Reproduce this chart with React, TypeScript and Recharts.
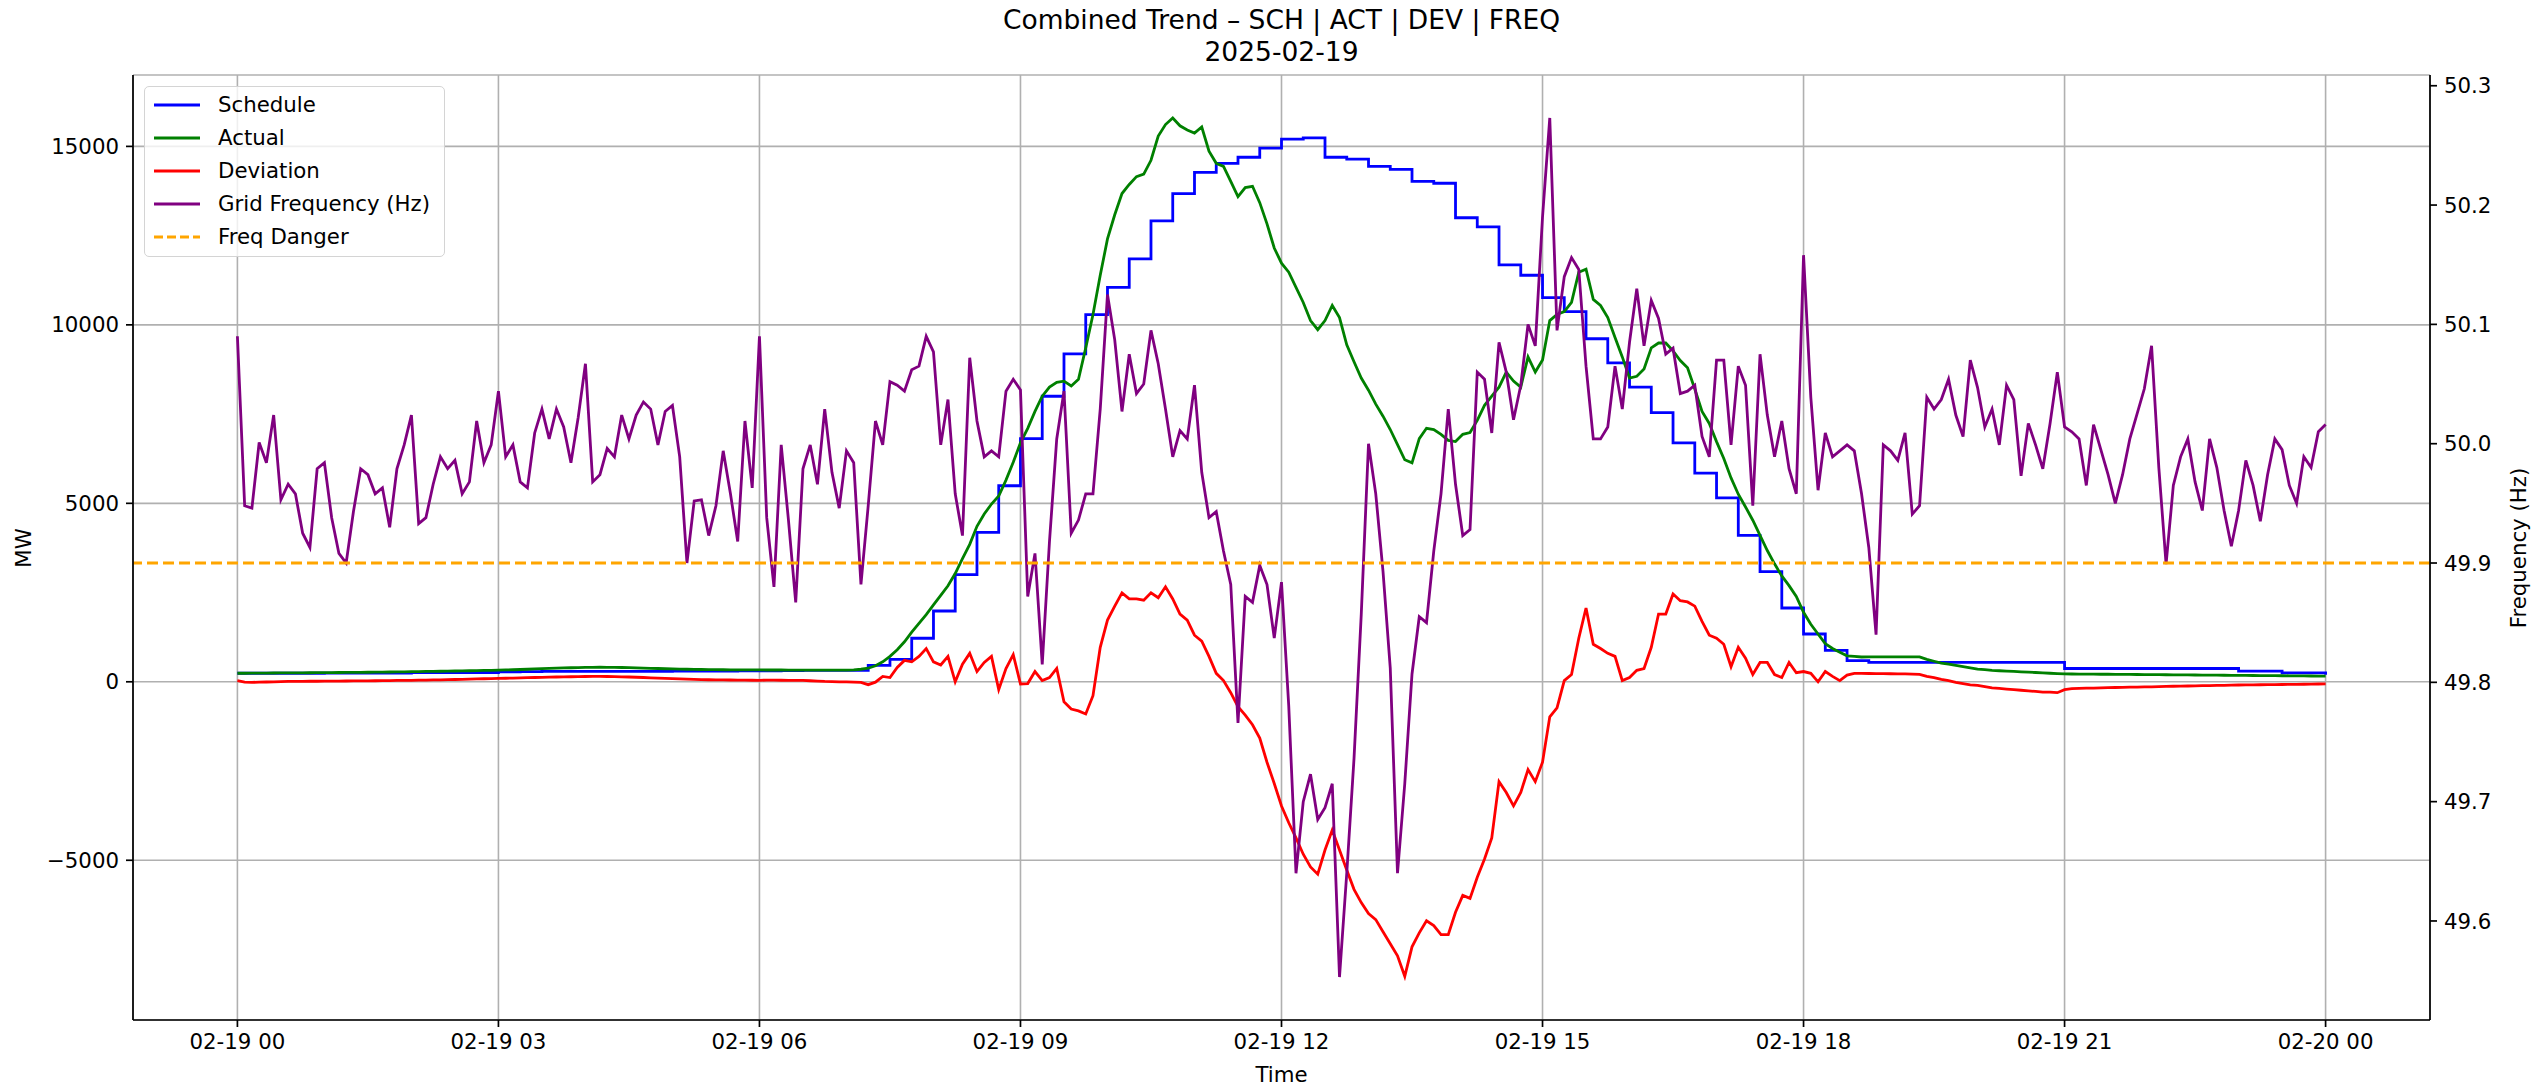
import { LineChart, Line, XAxis, YAxis, CartesianGrid, ReferenceLine } from "recharts";

const W = 2539;
const H = 1088;
const FONT = "DejaVu Sans, Verdana, sans-serif";
const PLOT_LEFT = 133;
const PLOT_RIGHT = 2430;
const PLOT_TOP = 75;
const PLOT_BOTTOM = 1020;
const FS = 21.3;

const STEP_MIN = 5; // freq / actual / deviation sampling
const BLOCK_MIN = 15; // schedule blocks

const TIME_TICKS = [0, 180, 360, 540, 720, 900, 1080, 1260, 1440];
const MW_TICKS = [-5000, 0, 5000, 10000, 15000];
const HZ_TICKS = [49.6, 49.7, 49.8, 49.9, 50.0, 50.1, 50.2, 50.3];
const FREQ_DANGER = 49.9;

// schedule, one value per 15-min block, 00:00 … 24:00
const SCHEDULE_MW = [
  240, 240, 240, 240, 245, 245, 245, 245, 255, 255, 260, 260,
  280, 285, 290, 290, 290, 290, 290, 290, 300, 300, 300, 305,
  310, 315, 320, 320, 322, 458, 627, 1220, 1983, 3000, 4187, 5492,
  6814, 8000, 9187, 10289, 11051, 11848, 12916, 13679, 14272, 14526, 14696, 14950,
  15204, 15238, 14696, 14645, 14441, 14357, 14018, 13967, 13001, 12746, 11679, 11390,
  10763, 10373, 9611, 8933, 8255, 7543, 6695, 5848, 5153, 4102, 3085, 2068,
  1339, 881, 593, 542, 542, 542, 542, 542, 542, 542, 542, 542,
  373, 373, 373, 373, 373, 373, 373, 373, 300, 300, 250, 250,
  200,
];

// actual, 5-min samples
const ACTUAL_MW = [
  // 00:00–03:00
  240, 240, 242, 244, 245, 246, 248, 250, 250, 252, 254, 255, 256, 258, 260, 262, 264, 265,
  268, 270, 272, 275, 278, 280, 283, 286, 290, 293, 296, 300, 303, 306, 310, 314, 318, 322, 326,
  // 03:05–06:00
  332, 338, 345, 352, 360, 368, 375, 382, 388, 393, 398, 402, 405, 407, 406, 404, 400, 396,
  390, 384, 378, 372, 366, 360, 356, 352, 348, 345, 342, 340, 338, 336, 335, 334, 333, 332,
  // 06:05–09:00
  330, 330, 330, 328, 328, 328, 326, 326, 326, 325, 325, 325, 335, 352, 380, 450, 560, 712,
  900, 1120, 1390, 1640, 1880, 2153, 2420, 2690, 3034, 3450, 3850, 4356, 4700, 4980, 5204, 5650, 6150, 6695,
  // 09:05–12:00
  7102, 7577, 8000, 8255, 8390, 8424, 8289, 8475, 9356, 10289, 11390, 12407, 13085, 13679, 13933, 14153, 14221, 14611,
  15289, 15611, 15797, 15577, 15458, 15374, 15543, 14865, 14526, 14441, 14018, 13594, 13848, 13882, 13424, 12831, 12153, 11729,
  // 12:05–15:00
  11475, 11051, 10628, 10119, 9865, 10119, 10543, 10204, 9441, 8967, 8509, 8170, 7780, 7441, 7068, 6644, 6221, 6136,
  6814, 7102, 7068, 6932, 6763, 6729, 6932, 6983, 7322, 7746, 8000, 8255, 8678, 8424, 8255, 9102, 8678, 9017,
  // 15:05–18:00
  10119, 10289, 10373, 10628, 11475, 11560, 10713, 10543, 10204, 9645, 9102, 8509, 8560, 8763, 9357, 9492, 9492, 9272,
  9001, 8797, 8204, 7577, 7238, 6729, 6255, 5712, 5255, 4899, 4526, 4102, 3678, 3305, 2966, 2695, 2390, 1949,
  // 18:05–21:00
  1610, 1339, 1068, 932, 831, 729, 712, 695, 700, 700, 700, 700, 700, 700, 700, 700, 627, 576,
  525, 492, 458, 424, 390, 356, 339, 322, 310, 300, 290, 280, 270, 260, 250, 240, 230, 220,
  // 21:05–24:00
  218, 217, 215, 214, 212, 211, 209, 207, 206, 204, 203, 201, 199, 198, 196, 194, 193, 191,
  189, 188, 186, 184, 182, 181, 179, 177, 175, 174, 172, 170, 168, 166, 164, 162, 160, 158,
];

// deviation, 5-min samples
const DEVIATION_MW = [
  // 00:00–03:00
  30, -10, -15, -10, -5, 0, 5, 10, 10, 12, 15, 15, 18, 20, 20, 22, 25, 25,
  28, 30, 32, 35, 38, 40, 42, 45, 48, 52, 56, 60, 65, 70, 75, 80, 85, 90, 95,
  // 03:05–06:00
  100, 105, 110, 115, 120, 125, 130, 135, 140, 142, 145, 148, 150, 150, 148, 145, 140, 135,
  128, 120, 112, 105, 98, 90, 82, 75, 68, 62, 58, 55, 52, 50, 48, 46, 44, 42,
  // 06:05–09:00
  48, 46, 44, 42, 40, 38, 30, 20, 10, 5, 0, 0, -10, -17, -80, -10, 150, 120,
  400, 600, 560, 712, 932, 560, 470, 712, 0, 492, 797, 288, 542, 712, -220, 373, 763, -60,
  // 09:05–12:00
  -50, 288, 34, 119, 373, -560, -763, -814, -900, -390, 966, 1729, 2119, 2492, 2322, 2322, 2288, 2492,
  2356, 2661, 2322, 1898, 1729, 1305, 1136, 712, 237, 34, -305, -695, -932, -1203, -1576, -2254, -2848, -3480,
  // 12:05–15:00
  -3949, -4373, -4831, -5187, -5390, -4712, -4153, -4712, -5271, -5814, -6187, -6492, -6661, -7000, -7339, -7678, -8250, -7424,
  -7034, -6695, -6831, -7085, -7085, -6458, -5983, -6068, -5475, -4966, -4373, -2797, -3102, -3475, -3102, -2458, -2797, -2254,
  // 15:05–18:00
  -983, -729, 34, 203, 1220, 2068, 1051, 932, 797, 712, 34, 119, 322, 373, 966, 1898, 1898, 2458,
  2271, 2237, 2119, 1695, 1305, 1220, 1051, 424, 966, 661, 203, 542, 542, 203, 119, 542, 254, 288,
  // 18:05–21:00
  237, 0, 288, 153, 34, 186, 237, 235, 232, 230, 228, 226, 224, 220, 215, 210, 153, 119,
  68, 34, -17, -51, -85, -102, -136, -170, -186, -203, -220, -237, -254, -271, -288, -288, -305, -220,
  // 21:05–24:00
  -190, -185, -180, -175, -170, -165, -160, -155, -150, -148, -145, -140, -135, -130, -125, -120, -118, -115,
  -110, -105, -100, -98, -95, -90, -88, -85, -82, -80, -78, -75, -72, -70, -68, -65, -62, -60,
];

// grid frequency, 5-min samples
const FREQ_HZ = [
  // 00:00–03:00
  50.09, 49.948, 49.946, 50.001, 49.984, 50.024, 49.953, 49.966, 49.958, 49.925, 49.913, 49.979, 49.984, 49.938, 49.908, 49.9, 49.943, 49.979,
  49.974, 49.958, 49.963, 49.93, 49.979, 49.999, 50.024, 49.933, 49.938, 49.966, 49.989, 49.979, 49.986, 49.958, 49.968, 50.019, 49.984, 49.999, 50.044,
  // 03:05–06:00
  49.989, 49.999, 49.968, 49.963, 50.009, 50.029, 50.004, 50.029, 50.014, 49.984, 50.022, 50.067, 49.968, 49.974, 49.996, 49.989, 50.024, 50.004,
  50.024, 50.035, 50.029, 49.999, 50.027, 50.032, 49.989, 49.9, 49.952, 49.953, 49.923, 49.948, 49.994, 49.958, 49.918, 50.019, 49.963, 50.09,
  // 06:05–09:00
  49.938, 49.88, 49.999, 49.936, 49.867, 49.979, 49.999, 49.966, 50.029, 49.976, 49.946, 49.994, 49.984, 49.882, 49.948, 50.019, 49.999, 50.052,
  50.049, 50.044, 50.062, 50.065, 50.09, 50.077, 49.999, 50.037, 49.958, 49.923, 50.072, 50.019, 49.989, 49.994, 49.989, 50.044, 50.054, 50.045,
  // 09:05–12:00
  49.872, 49.908, 49.815, 49.918, 50.004, 50.044, 49.925, 49.936, 49.958, 49.958, 50.029, 50.125, 50.087, 50.027, 50.075, 50.042, 50.05, 50.095,
  50.067, 50.029, 49.989, 50.011, 50.004, 50.049, 49.976, 49.938, 49.943, 49.91, 49.882, 49.766, 49.872, 49.867, 49.898, 49.882, 49.837, 49.884,
  // 12:05–15:00
  49.78, 49.64, 49.7, 49.723, 49.685, 49.695, 49.715, 49.553, 49.64, 49.736, 49.857, 50.0, 49.958, 49.893, 49.812, 49.64, 49.715, 49.807,
  49.855, 49.85, 49.91, 49.958, 50.029, 49.966, 49.923, 49.928, 50.06, 50.054, 50.009, 50.085, 50.06, 50.02, 50.049, 50.1, 50.082, 50.19,
  // 15:05–18:00
  50.273, 50.095, 50.14, 50.156, 50.146, 50.065, 50.004, 50.004, 50.014, 50.065, 50.029, 50.085, 50.13, 50.082, 50.12, 50.105, 50.075, 50.08,
  50.042, 50.044, 50.049, 50.006, 49.989, 50.07, 50.07, 49.999, 50.065, 50.049, 49.948, 50.075, 50.024, 49.989, 50.019, 49.979, 49.958, 50.158,
  // 18:05–21:00
  50.039, 49.961, 50.009, 49.989, 49.994, 49.999, 49.994, 49.958, 49.913, 49.84, 49.999, 49.994, 49.986, 50.009, 49.941, 49.948, 50.039, 50.029,
  50.037, 50.054, 50.024, 50.006, 50.07, 50.047, 50.014, 50.029, 49.999, 50.049, 50.037, 49.973, 50.017, 49.999, 49.979, 50.017, 50.06, 50.014,
  // 21:05–24:00
  50.01, 50.004, 49.965, 50.016, 49.995, 49.974, 49.95, 49.974, 50.004, 50.025, 50.046, 50.082, 49.98, 49.899, 49.965, 49.989, 50.004, 49.968,
  49.944, 50.004, 49.98, 49.944, 49.914, 49.944, 49.986, 49.965, 49.935, 49.974, 50.004, 49.995, 49.965, 49.95, 49.989, 49.98, 50.01, 50.016,
];

const LEGEND_ITEMS = [
  { label: "Schedule", color: "#0000ff", dashed: false },
  { label: "Actual", color: "#008000", dashed: false },
  { label: "Deviation", color: "#ff0000", dashed: false },
  { label: "Grid Frequency (Hz)", color: "#800080", dashed: false },
  { label: "Freq Danger", color: "#ffa500", dashed: true },
];

const rows = FREQ_HZ.map((hz, i) => ({
  t: i * STEP_MIN,
  schedule: SCHEDULE_MW[Math.floor((i * STEP_MIN) / BLOCK_MIN)],
  actual: ACTUAL_MW[i],
  deviation: DEVIATION_MW[i],
  freq: hz,
}));

const fmtTime = (t: number) => {
  const day = t >= 1440 ? "02-20" : "02-19";
  const hh = Math.floor((t % 1440) / 60);
  return `${day} ${String(hh).padStart(2, "0")}`;
};
const fmtMw = (v: number) => (v < 0 ? `\u2212${Math.abs(v)}` : `${v}`);

const tickStyle = { fill: "#000", fontSize: FS, fontFamily: FONT };
const axisStroke = { stroke: "#000", strokeWidth: 1.7 };
const LW = 2.8;

function LegendBox() {
  return (
    <div
      style={{
        position: "absolute",
        left: 144,
        top: 86,
        width: 301,
        height: 171,
        boxSizing: "border-box",
        border: "1.7px solid #d4d4d4",
        borderRadius: 5,
        background: "rgba(255,255,255,0.8)",
        fontFamily: FONT,
        fontSize: FS,
        color: "#000",
      }}
    >
      {LEGEND_ITEMS.map((it, i) => (
        <div
          key={it.label}
          style={{ position: "absolute", left: 0, top: 18 + i * 33 - 13, height: 26, display: "flex", alignItems: "center" }}
        >
          <svg width={56} height={26} style={{ display: "block" }}>
            <line
              x1={9}
              x2={55}
              y1={13}
              y2={13}
              stroke={it.color}
              strokeWidth={LW}
              strokeDasharray={it.dashed ? "9 4" : undefined}
            />
          </svg>
          <span style={{ marginLeft: 17, whiteSpace: "nowrap", lineHeight: "26px" }}>{it.label}</span>
        </div>
      ))}
    </div>
  );
}

export default function App() {
  const midX = (PLOT_LEFT + PLOT_RIGHT) / 2;
  const midY = (PLOT_TOP + PLOT_BOTTOM) / 2;
  return (
    <div style={{ position: "absolute", left: 0, top: 0, width: W, height: H, background: "#fff", fontFamily: FONT }}>
      <div
        style={{
          position: "absolute",
          left: midX - 600,
          width: 1200,
          top: 4,
          textAlign: "center",
          fontSize: 26.5,
          lineHeight: "32px",
          color: "#000",
        }}
      >
        <div>Combined Trend – SCH | ACT | DEV | FREQ</div>
        <div>2025-02-19</div>
      </div>

      <LineChart
        width={W}
        height={H}
        data={rows}
        margin={{ top: PLOT_TOP, right: 0, bottom: 0, left: 0 }}
        style={{ position: "absolute", left: 0, top: 0 }}
      >
        <CartesianGrid xAxisId="time" yAxisId="mw" stroke="#b0b0b0" strokeWidth={1.6} />
        <XAxis
          xAxisId="time"
          dataKey="t"
          type="number"
          domain={[-72, 1512]}
          allowDataOverflow
          ticks={TIME_TICKS}
          tickFormatter={fmtTime}
          height={H - PLOT_BOTTOM}
          tick={tickStyle}
          tickSize={7}
          tickMargin={7}
          tickLine={axisStroke}
          axisLine={axisStroke}
        />
        <XAxis
          xAxisId="top"
          orientation="top"
          dataKey="t"
          type="number"
          domain={[-72, 1512]}
          allowDataOverflow
          height={0}
          tick={false}
          tickLine={false}
          axisLine={axisStroke}
        />
        <YAxis
          yAxisId="mw"
          type="number"
          domain={[-9475, 17000]}
          allowDataOverflow
          ticks={MW_TICKS}
          tickFormatter={fmtMw}
          width={PLOT_LEFT}
          tick={tickStyle}
          tickSize={7}
          tickMargin={7}
          tickLine={axisStroke}
          axisLine={axisStroke}
        />
        <YAxis
          yAxisId="hz"
          orientation="right"
          type="number"
          domain={[49.517, 50.309]}
          allowDataOverflow
          ticks={HZ_TICKS}
          tickFormatter={(v: number) => v.toFixed(1)}
          width={W - PLOT_RIGHT}
          tick={tickStyle}
          tickSize={7}
          tickMargin={7}
          tickLine={axisStroke}
          axisLine={axisStroke}
        />
        <Line xAxisId="time" yAxisId="mw" type="stepAfter" dataKey="schedule" stroke="#0000ff" strokeWidth={LW} dot={false} isAnimationActive={false} />
        <Line xAxisId="time" yAxisId="mw" type="linear" dataKey="actual" stroke="#008000" strokeWidth={LW} dot={false} isAnimationActive={false} />
        <Line xAxisId="time" yAxisId="mw" type="linear" dataKey="deviation" stroke="#ff0000" strokeWidth={LW} dot={false} isAnimationActive={false} />
        <Line xAxisId="time" yAxisId="hz" type="linear" dataKey="freq" stroke="#800080" strokeWidth={LW} dot={false} isAnimationActive={false} />
        <ReferenceLine xAxisId="time" yAxisId="hz" y={FREQ_DANGER} stroke="#ffa500" strokeWidth={LW} strokeDasharray="11 5" />
      </LineChart>

      <div
        style={{
          position: "absolute",
          left: 24 - 40,
          top: midY - 13,
          width: 80,
          textAlign: "center",
          fontSize: FS,
          lineHeight: "26px",
          transform: "rotate(-90deg)",
        }}
      >
        MW
      </div>
      <div
        style={{
          position: "absolute",
          left: 2519 - 120,
          top: midY - 13,
          width: 240,
          textAlign: "center",
          fontSize: FS,
          lineHeight: "26px",
          transform: "rotate(-90deg)",
        }}
      >
        Frequency (Hz)
      </div>
      <div
        style={{
          position: "absolute",
          left: midX - 100,
          top: 1062,
          width: 200,
          textAlign: "center",
          fontSize: FS,
          lineHeight: "26px",
        }}
      >
        Time
      </div>

      <LegendBox />
    </div>
  );
}
